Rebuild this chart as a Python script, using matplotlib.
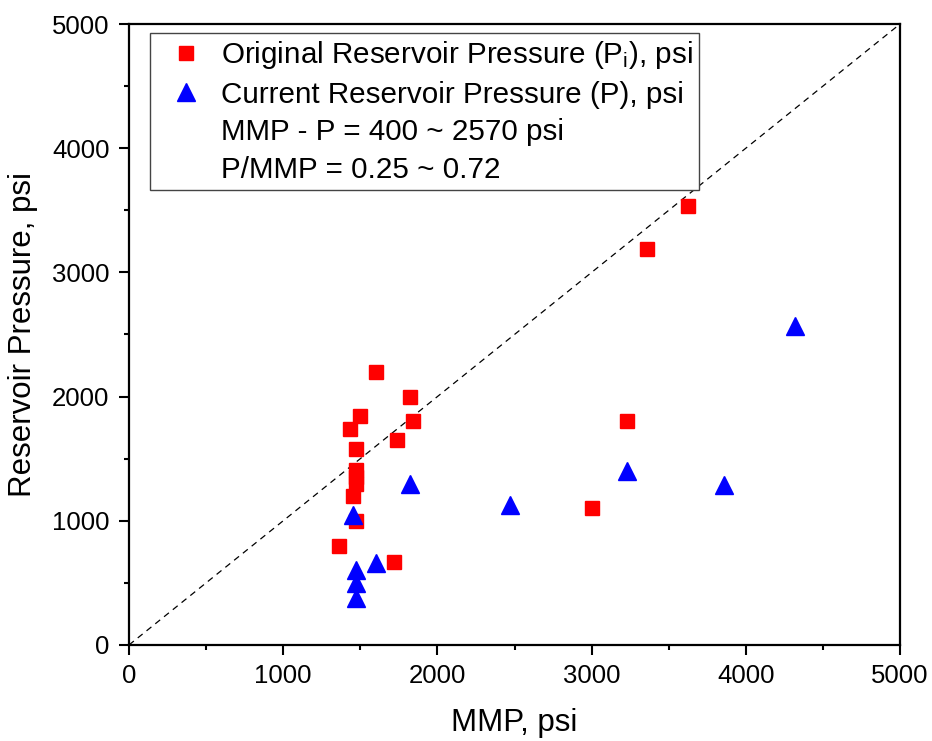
import matplotlib
matplotlib.use("Agg")
import matplotlib.pyplot as plt
from matplotlib.lines import Line2D

plt.rcParams['font.family'] = ['Liberation Sans', 'DejaVu Sans']
plt.rcParams['mathtext.fontset'] = 'custom'
plt.rcParams['mathtext.rm'] = 'Liberation Sans'
plt.rcParams['mathtext.it'] = 'Liberation Sans:italic'

# Original reservoir pressure (Pi) vs MMP
mmp_orig = [3625, 3360, 3230, 3000, 1600, 1820, 1840, 1740, 1500, 1430,
            1470, 1475, 1475, 1475, 1450, 1475, 1360, 1720]
p_orig = [3535, 3190, 1800, 1100, 2200, 2000, 1800, 1650, 1840, 1740,
          1580, 1410, 1350, 1300, 1200, 1000, 800, 670]

# Current reservoir pressure (P) vs MMP
mmp_curr = [4320, 3230, 3860, 2470, 1820, 1450, 1600, 1475, 1475, 1475]
p_curr = [2570, 1400, 1290, 1130, 1300, 1050, 660, 600, 500, 380]

legend_labels = [
    r'Original Reservoir Pressure (P$_\mathregular{i}$), psi',
    'Current Reservoir Pressure (P), psi',
    'MMP - P = 400 ~ 2570 psi',
    'P/MMP = 0.25 ~ 0.72',
]

fig = plt.figure(figsize=(9.32, 7.41), dpi=100)
ax = fig.add_axes([0.1384, 0.1296, 0.8273, 0.838])

# 1:1 line
ax.plot([0, 5000], [0, 5000], color='black', linestyle=(0, (5, 4)), linewidth=0.9, zorder=1)

ax.plot(mmp_orig, p_orig, linestyle='None', marker='s', markersize=9.5,
        color='#ff0000', zorder=3)
ax.plot(mmp_curr, p_curr, linestyle='None', marker='^', markersize=12.5,
        color='#0000ff', zorder=3)

ax.set_xlim(0, 5000)
ax.set_ylim(0, 5000)
ax.set_xticks(range(0, 5001, 1000))
ax.set_yticks(range(0, 5001, 1000))
ax.set_xticks(range(500, 5000, 1000), minor=True)
ax.set_yticks(range(500, 5000, 1000), minor=True)

for s in ax.spines.values():
    s.set_linewidth(1.6)
ax.tick_params(which='major', direction='out', length=7, width=1.5, labelsize=18.5, pad=7)
ax.tick_params(which='minor', direction='out', length=3.5, width=1.5)

ax.set_xlabel('MMP, psi', fontsize=22.5, labelpad=14)
ax.set_ylabel('Reservoir Pressure, psi', fontsize=22.5, labelpad=10)

handles = [
    Line2D([], [], linestyle='None', marker='s', markersize=9.5, color='#ff0000'),
    Line2D([], [], linestyle='None', marker='^', markersize=12.5, color='#0000ff'),
    Line2D([], [], linestyle='None', marker='None'),
    Line2D([], [], linestyle='None', marker='None'),
]
leg = ax.legend(handles, legend_labels, loc='upper left',
                bbox_to_anchor=(0.0272, 0.9855), borderaxespad=0,
                fontsize=21.3, frameon=True, fancybox=False,
                edgecolor='#444444', framealpha=1, handlelength=2.05,
                handletextpad=0.15, labelspacing=0.33, borderpad=0.2)
leg.get_frame().set_linewidth(1.0)

fig.savefig('out.png', dpi=100)
